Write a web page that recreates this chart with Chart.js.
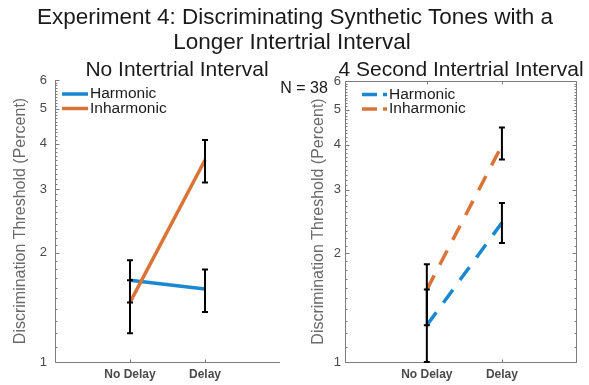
<!DOCTYPE html>
<html>
<head>
<meta charset="utf-8">
<script src="https://cdn.jsdelivr.net/npm/chart.js@4.4.1/dist/chart.umd.min.js"></script>
<style>
  html, body { margin: 0; padding: 0; background: #ffffff; }
  #wrap { position: relative; width: 589px; height: 385px; overflow: hidden;
          font-family: "Liberation Sans", Arial, Helvetica, sans-serif; }
  canvas { position: absolute; left: 0; top: 0; }
  .t { position: absolute; white-space: nowrap; color: #1a1a1a; line-height: 1;
       transform: translate(-50%, -50%); }
</style>
</head>
<body>
<div id="wrap">
  <canvas id="c1" width="589" height="385"></canvas>
  <canvas id="c2" width="589" height="385"></canvas>
  <div class="t" style="left:295px; top:17px; font-size:22.5px;">Experiment 4: Discriminating Synthetic Tones with a</div>
  <div class="t" style="left:292px; top:42px; font-size:22.5px;">Longer Intertrial Interval</div>
  <div class="t" style="left:177px; top:68px; font-size:21px;">No Intertrial Interval</div>
  <div class="t" style="left:461px; top:68px; font-size:21px;">4 Second Intertrial Interval</div>
  <div class="t" style="left:304px; top:88px; font-size:16px;">N = 38</div>
</div>
<script>
// ---------- DATA ----------
const categories = ['No Delay', 'Delay'];
const seriesNames = ['Harmonic', 'Inharmonic'];
const yTickValues = [1, 2, 3, 4, 5, 6];

// Panel 1: No intertrial interval
const noITI_harmonic      = [1.68, 1.59];
const noITI_harmonicLow   = [1.46, 1.375];
const noITI_harmonicHigh  = [1.91, 1.80];
const noITI_inharmonic     = [1.46, 3.61];
const noITI_inharmonicLow  = [1.20, 3.13];
const noITI_inharmonicHigh = [1.68, 4.10];

// Panel 2: 4 second intertrial interval
const iti4_harmonic      = [1.264, 2.43];
const iti4_harmonicLow   = [1.00, 2.136];
const iti4_harmonicHigh  = [1.587, 2.757];
const iti4_inharmonic     = [1.587, 3.98];
const iti4_inharmonicLow  = [1.264, 3.64];
const iti4_inharmonicHigh = [1.865, 4.46];

// ---------- STYLE ----------
const BLUE = '#1a87cf';
const ORANGE = '#da7436';
const AXIS = '#7c7c7c';
Chart.defaults.font.family = '"Liberation Sans", Arial, Helvetica, sans-serif';

const toPts = arr => arr.map((v, i) => ({ x: i + 1, y: v }));

const matlabAxes = {
  id: 'matlabAxes',
  beforeDatasetsDraw(chart, args, o) {
    const { ctx, chartArea: a, scales: { x, y } } = chart;
    ctx.save();
    ctx.strokeStyle = AXIS;
    ctx.lineWidth = 1;
    ctx.beginPath();
    const L = Math.round(a.left) + 0.5, B = Math.round(a.bottom) + 0.5;
    const T = Math.round(a.top) + 0.5, R = Math.round(a.right) - 0.5;
    ctx.moveTo(L, T - 0.5); ctx.lineTo(L, B); ctx.lineTo(R + 0.5, B);
    if (o.box) { ctx.moveTo(L, T); ctx.lineTo(R, T); ctx.lineTo(R, B); }
    // major y ticks
    y.ticks.forEach(t => {
      const py = Math.round(y.getPixelForValue(t.value)) + 0.5;
      ctx.moveTo(L, py); ctx.lineTo(L + 4, py);
      if (o.box) { ctx.moveTo(R, py); ctx.lineTo(R - 4, py); }
    });
    // minor y ticks
    for (let i = yTickValues[0]; i < yTickValues[yTickValues.length - 1]; i++) {
      for (let j = 1; j < 10; j++) {
        const py = Math.round(y.getPixelForValue(i + j / 10)) + 0.5;
        ctx.moveTo(L, py); ctx.lineTo(L + 2, py);
        if (o.box) { ctx.moveTo(R, py); ctx.lineTo(R - 2, py); }
      }
    }
    // x ticks
    x.ticks.forEach(t => {
      const px = Math.round(x.getPixelForValue(t.value)) + 0.5;
      ctx.moveTo(px, B); ctx.lineTo(px, B - 3);
      if (o.box) { ctx.moveTo(px, T); ctx.lineTo(px, T + 3); }
    });
    ctx.stroke();
    ctx.restore();
  }
};

const errorBars = {
  id: 'errorBars',
  afterDatasetsDraw(chart) {
    const { ctx, scales: { x, y } } = chart;
    ctx.save();
    ctx.strokeStyle = '#000';
    ctx.lineWidth = 2;
    ctx.lineCap = 'butt';
    chart.data.datasets.forEach(ds => {
      ds.data.forEach((p, i) => {
        const px = x.getPixelForValue(p.x);
        const yl = y.getPixelForValue(ds.errLow[i]);
        const yh = y.getPixelForValue(ds.errHigh[i]);
        ctx.beginPath();
        ctx.moveTo(px, yl); ctx.lineTo(px, yh);
        ctx.moveTo(px - 3, yl); ctx.lineTo(px + 3, yl);
        ctx.moveTo(px - 3, yh); ctx.lineTo(px + 3, yh);
        ctx.stroke();
      });
    });
    ctx.restore();
  }
};

const insideLegend = {
  id: 'insideLegend',
  afterDraw(chart, args, o) {
    const { ctx } = chart;
    ctx.save();
    chart.data.datasets.forEach((ds, i) => {
      const yy = o.y0 + i * o.dy;
      ctx.strokeStyle = ds.borderColor;
      ctx.lineWidth = 3.5;
      ctx.setLineDash(o.dash || []);
      ctx.beginPath();
      ctx.moveTo(o.x0, yy); ctx.lineTo(o.x1, yy);
      ctx.stroke();
      ctx.setLineDash([]);
      ctx.fillStyle = '#1a1a1a';
      ctx.font = '15.5px "Liberation Sans", Arial, sans-serif';
      ctx.textBaseline = 'middle';
      ctx.textAlign = 'left';
      ctx.fillText(ds.label, o.x1 + 2, yy);
    });
    ctx.restore();
  }
};

function makeChart(id, cfg) {
  const datasets = [
    { label: seriesNames[0], data: toPts(cfg.h), errLow: cfg.hl, errHigh: cfg.hh,
      borderColor: BLUE, borderWidth: 3.5, borderDash: cfg.dash, pointRadius: 0, order: 1 },
    { label: seriesNames[1], data: toPts(cfg.i), errLow: cfg.il, errHigh: cfg.ih,
      borderColor: ORANGE, borderWidth: 3.5, borderDash: cfg.dash, pointRadius: 0, order: 0 }
  ];
  return new Chart(document.getElementById(id), {
    type: 'line',
    data: { datasets },
    plugins: [matlabAxes, errorBars, insideLegend],
    options: {
      responsive: false,
      animation: false,
      devicePixelRatio: 1,
      layout: { padding: cfg.padding },
      plugins: {
        legend: { display: false },
        tooltip: { enabled: false },
        matlabAxes: { box: cfg.box },
        insideLegend: cfg.legend
      },
      scales: {
        x: {
          type: 'linear', min: cfg.xMin, max: cfg.xMax,
          grid: { display: false, drawTicks: false }, border: { display: false },
          afterBuildTicks: s => { s.ticks = categories.map((c, i) => ({ value: i + 1 })); },
          afterFit: s => { s.height = 23; },
          ticks: { callback: (v, i) => categories[i], padding: 5, autoSkip: false, maxRotation: 0,
                   color: '#4a4a4a', font: { size: 12, weight: 'bold' } }
        },
        y: {
          type: 'logarithmic', min: 1, max: 6,
          grid: { display: false, drawTicks: false }, border: { display: false },
          afterBuildTicks: s => { s.ticks = yTickValues.map(v => ({ value: v })); },
          afterFit: s => { s.width = 55; },
          ticks: { callback: v => String(v), padding: cfg.tickPad, color: '#4a4a4a', font: { size: 13 } },
          title: { display: true, text: 'Discrimination Threshold (Percent)', color: '#6a6a6a',
                   font: { size: 16 }, padding: { top: cfg.titlePad, bottom: 0 } }
        }
      }
    }
  });
}

makeChart('c1', {
  h: noITI_harmonic, hl: noITI_harmonicLow, hh: noITI_harmonicHigh,
  i: noITI_inharmonic, il: noITI_inharmonicLow, ih: noITI_inharmonicHigh,
  dash: [], box: false, xMin: 0, xMax: 3,
  padding: { top: 80, right: 309, bottom: 0, left: 0 },
  tickPad: 8, titlePad: 11.4,
  legend: { x0: 62, x1: 88, y0: 94, dy: 14.5, dash: [] }
});

makeChart('c2', {
  h: iti4_harmonic, hl: iti4_harmonicLow, hh: iti4_harmonicHigh,
  i: iti4_inharmonic, il: iti4_inharmonicLow, ih: iti4_inharmonicHigh,
  dash: [16, 12], box: true, xMin: -0.09, xMax: 3.0,
  padding: { top: 81, right: 12, bottom: 0, left: 290 },
  tickPad: 4, titlePad: 18.7,
  legend: { x0: 362, x1: 387, y0: 94.5, dy: 14.5, dash: [15, 6] }
});
</script>
</body>
</html>
